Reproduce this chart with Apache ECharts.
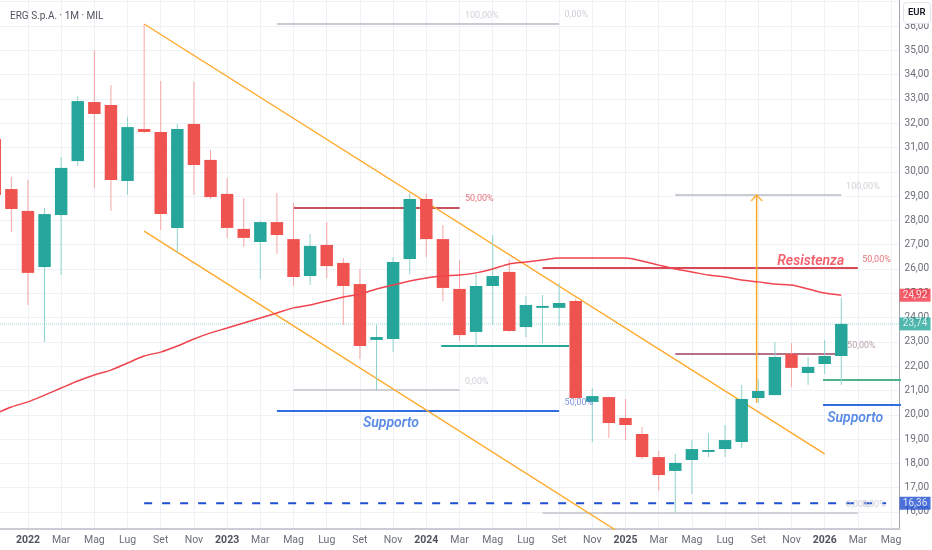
<!DOCTYPE html>
<html><head><meta charset="utf-8">
<script src="https://cdn.jsdelivr.net/npm/echarts@6/dist/echarts.min.js"></script>
<style>html,body{margin:0;padding:0;background:#fff}#c{width:932px;height:550px}</style>
</head><body><div id="c"></div>
<script>
// ---- axis data ----
const monthNames = ['Gen','Feb','Mar','Apr','Mag','Giu','Lug','Ago','Set','Ott','Nov','Dic'];
const startYear = 2022;            // month index 0 = Gen 2022
const xMin = -1.684, xMax = 52.511; // visible month range
const yMin = 15.30, yMax = 37.07;   // visible price range
const xTicks = [0,2,4,6,8,10,12,14,16,18,20,22,24,26,28,30,32,34,36,38,40,42,44,46,48,50,52];
const yGridTicks = [16,17,18,19,20,21,22,23,24,25,26,27,28,29,30,31,32,33,34,35,36,37];
const yLabelTicks = [16,17,18,19,20,21,22,23,24,25,26,27,28,29,30,31,32,33,34,35,36];

// ---- monthly candles: [monthIndex, open, close, low, high] ----
const candles = [
  [-2,31.35,29.05,28.90,31.70],
  [-1,29.29,28.47,27.52,29.79],
  [0,28.39,25.84,24.52,29.66],
  [1,26.08,28.26,23.00,28.51],
  [2,28.22,30.16,25.75,30.61],
  [3,30.44,32.91,30.24,33.12],
  [4,32.87,32.38,29.33,35.01],
  [5,32.75,29.66,28.39,33.57],
  [6,29.62,31.84,29.05,32.26],
  [7,31.76,31.64,31.60,36.08],
  [8,31.64,28.26,27.60,33.74],
  [9,27.69,31.76,26.66,31.97],
  [10,31.97,30.28,29.05,33.70],
  [11,30.49,28.96,28.88,30.90],
  [12,29.09,27.69,27.28,29.74],
  [13,27.65,27.28,26.91,28.92],
  [14,27.11,27.93,25.59,27.98],
  [15,27.93,27.40,26.62,29.13],
  [16,27.23,25.67,25.30,28.72],
  [17,25.71,26.95,25.34,27.44],
  [18,26.99,26.12,25.63,27.93],
  [19,26.25,25.30,23.70,26.45],
  [20,25.38,22.83,22.30,26.00],
  [21,23.08,23.20,21.02,23.70],
  [22,23.12,26.29,22.58,26.49],
  [23,26.41,28.88,25.79,29.13],
  [24,28.88,27.23,26.49,29.09],
  [25,27.23,25.22,24.68,27.81],
  [26,25.18,23.28,23.04,26.37],
  [27,23.41,25.30,22.83,25.79],
  [28,25.30,25.71,23.70,27.40],
  [29,25.88,23.45,23.41,26.37],
  [30,23.61,24.52,23.20,24.89],
  [31,24.40,24.48,22.95,24.93],
  [32,24.40,24.60,23.65,25.42],
  [33,24.68,20.69,20.60,24.77],
  [34,20.53,20.77,18.88,21.10],
  [35,20.73,19.66,19.05,20.75],
  [36,19.87,19.58,18.96,20.65],
  [37,19.21,18.26,18.18,19.50],
  [38,18.26,17.52,16.86,18.51],
  [39,17.69,18.02,15.96,18.39],
  [40,18.14,18.59,16.74,18.96],
  [41,18.47,18.55,18.26,19.25],
  [42,18.59,18.96,18.26,19.58],
  [43,18.88,20.65,18.63,21.23],
  [44,20.69,20.98,20.49,21.47],
  [45,20.81,22.38,20.81,23.00],
  [46,22.50,21.93,21.14,22.95],
  [47,21.72,21.97,21.23,22.38],
  [48,22.09,22.42,21.68,23.08],
  [49,22.42,23.74,21.23,24.81]
];

// ---- moving average (starts at month index -2) ----
const maStart = -2;
const maValues = [20.03,20.32,20.53,20.81,21.10,21.39,21.64,21.84,22.13,22.42,22.58,22.83,23.12,23.37,23.57,23.78,
  23.98,24.19,24.40,24.52,24.68,24.85,24.97,25.18,25.34,25.51,25.63,25.71,25.75,25.84,26.00,26.21,26.29,26.37,
  26.45,26.45,26.45,26.45,26.45,26.33,26.16,26.00,25.88,25.75,25.67,25.55,25.47,25.38,25.34,25.18,25.01,24.92];

// ---- drawings: [[monthIndex, price], [monthIndex, price]] ----
const channelUpper = [[7,36.08],[48,18.39]];
const channelLower = [[7,27.56],[38,14.13]];
const fibTopGrey   = [[15,36.08],[32,36.08]];
const fibMidRed    = [[16,28.51],[26,28.51]];
const fibZeroGrey  = [[16,21.02],[26,21.02]];
const supportLeft  = [[15,20.16],[32,20.16]];
const tealLevel    = [[24.9,22.83],[32.6,22.83]];
const dashedLevel  = [[7,16.36],[51.7,16.36]];
const fibBottomGrey= [[31,15.96],[50,15.96]];
const fibTopRight  = [[39,29.05],[49,29.05]];
const resistance   = [[31,26.04],[50,26.04]];
const mauveLevel   = [[39,22.50],[49,22.50]];
const greenLevel   = [[47.9,21.43],[53,21.43]];
const supportRight = [[47.9,20.40],[53,20.40]];
const targetArrow  = [[43.9,20.5],[43.9,29.05]];
const lastPrice = 23.74, maLast = 24.92, dashedPrice = 16.36;

// ---- text annotations: [monthIndex, price, text] ----
const greyPctLabels  = [[26.3,36.41,'100,00%'],[32.3,36.45,'0,00%'],[26.3,21.35,'0,00%'],[49.26,29.37,'100,00%'],[49.26,16.29,'0,00%'],[50.23,16.29,'0,00%']];
const redPctLabels   = [[26.3,28.88,'50,00%'],[50.23,26.37,'50,00%']];
const bluePctLabels  = [[32.3,20.49,'50,00%']];
const mauvePctLabels = [[49.32,22.83,'50,00%']];
const supportLabels  = [[20.15,19.66,'Supporto'],[48.12,19.83,'Supporto']];
const resistLabels   = [[45.11,26.29,'Resistenza']];

const FONT = 'Roboto, "Noto Sans", sans-serif';
const fmt = v => v.toFixed(2).replace('.', ',');

function seg(data, color, width, type, z) {
  return {type:'line', data:data, symbol:'none', clip:true, silent:true, z:z||3,
    lineStyle:{color:color, width:width, type:type||'solid'}};
}
function texts(arr, style) {
  return {type:'scatter', clip:false, silent:true, z:8, symbolSize:1,
    itemStyle:{color:'rgba(0,0,0,0)'},
    data: arr.map(d => ({name:d[2], value:[d[0], d[1]]})),
    label:Object.assign({show:true, position:'right', distance:0, formatter:'{b}', fontFamily:FONT}, style)};
}

const chart = echarts.init(document.getElementById('c'), null, {renderer:'canvas'});
chart.setOption({
  animation:false,
  backgroundColor:'#ffffff',
  textStyle:{fontFamily:FONT},
  title:{text:'ERG S.p.A. · 1M · MIL', left:5, top:6,
    textStyle:{fontSize:10, fontWeight:'normal', color:'#50535e', fontFamily:FONT}},
  grid:{left:0, right:31, top:0, bottom:21, containLabel:false},
  xAxis:{type:'value', min:xMin, max:xMax, position:'bottom',
    axisLine:{show:true, onZero:false, lineStyle:{color:'#c9ccd3', width:2}},
    axisTick:{show:false, customValues:xTicks},
    axisLabel:{customValues:xTicks, margin:6, fontSize:10.5, color:'#6a6d78',
      formatter: v => { const m = Math.round(v); const mi = ((m % 12) + 12) % 12;
        return mi === 0 ? '{y|' + (startYear + Math.floor(m/12)) + '}' : monthNames[mi]; },
      rich:{y:{fontWeight:'bold', color:'#50535e', fontSize:10.5, fontFamily:FONT}}},
    splitLine:{show:true, lineStyle:{color:'#eef1f6', width:1}}},
  yAxis:{type:'value', min:yMin, max:yMax, position:'right',
    axisLine:{show:true, onZero:false, lineStyle:{color:'#a3a6af', width:1}},
    axisTick:{show:false, customValues:yGridTicks},
    axisLabel:{customValues:yLabelTicks, formatter:fmt, color:'#6a6d78', fontSize:10, margin:5},
    splitLine:{show:true, lineStyle:{color:'#eef1f6', width:1}}},
  graphic:[
    {type:'rect', left:903, top:2, shape:{width:27, height:21, r:3}, z:100,
      style:{fill:'#ffffff', stroke:'#e0e3eb', lineWidth:1}},
    {type:'text', left:908, top:8, z:101,
      style:{text:'EUR', fill:'#131722', fontSize:9.5, fontWeight:600, fontFamily:FONT}}
  ],
  series:[
    seg([[xMin,lastPrice],[xMax,lastPrice]], '#9fd8d2', 1, 'dotted', 1),
    seg(fibTopGrey, '#c8cbd2', 2),
    seg(fibZeroGrey, '#cfd1d6', 2),
    seg(fibBottomGrey, '#cfd1d6', 2),
    seg(fibTopRight, '#c8cbd2', 2),
    seg(fibMidRed, '#c9505c', 2),
    seg(resistance, '#d94a56', 2),
    seg(mauveLevel, '#b5708a', 2),
    seg(tealLevel, '#26a69a', 2),
    seg(greenLevel, '#4db38a', 2),
    seg(supportLeft, '#2f6ee0', 2),
    seg(supportRight, '#2f6ee0', 2),
    seg(dashedLevel, '#1f4fd1', 2, [8,10]),
    seg(channelUpper, '#ffa726', 1.3),
    seg(channelLower, '#ffa726', 1.3),
    seg(targetArrow, '#ffa726', 1.5),
    {type:'scatter', silent:true, clip:false, z:4, data:[targetArrow[1]],
      symbol:'path://M0,10L10,0L20,10', symbolSize:[11,6], symbolOffset:[0,3],
      itemStyle:{color:'rgba(0,0,0,0)', borderColor:'#ffa726', borderWidth:1.5}},
    {type:'custom', z:5, clip:true, silent:true, data:candles,
      encode:{x:0, y:[1,2,3,4]},
      renderItem:function(params, api){
        const m = api.value(0), o = api.value(1), c = api.value(2), l = api.value(3), h = api.value(4);
        const up = c >= o;
        const pO = api.coord([m,o]), pC = api.coord([m,c]), pL = api.coord([m,l]), pH = api.coord([m,h]);
        const bw = api.size([1,0])[0] * 0.75;
        const top = Math.min(pO[1], pC[1]);
        const bh = Math.max(Math.abs(pO[1]-pC[1]), 1.5);
        return {type:'group', children:[
          {type:'line', shape:{x1:pO[0], y1:pH[1], x2:pO[0], y2:pL[1]},
            style:{stroke: up ? '#8fd3cb' : '#f5a5a3', lineWidth:1}},
          {type:'rect', shape:{x:pO[0]-bw/2, y:top, width:bw, height:bh},
            style:{fill: up ? '#26a69a' : '#ef5350'}}
        ]};
      }},
    {type:'line', z:6, symbol:'none', clip:true, silent:true, smooth:0.3,
      data: maValues.map((v,i) => [maStart + i, v]),
      lineStyle:{color:'#f0444f', width:1.5}},
    texts(greyPctLabels, {color:'#c3c6cd', fontSize:9}),
    texts(redPctLabels, {color:'#e0525d', fontSize:9}),
    texts(bluePctLabels, {color:'#5b78d0', fontSize:9}),
    texts(mauvePctLabels, {color:'#a88a98', fontSize:9}),
    texts(supportLabels, {color:'#2f6ee0', fontSize:14, fontStyle:'italic', fontWeight:600}),
    texts(resistLabels, {color:'#f23645', fontSize:14, fontStyle:'italic', fontWeight:600}),
    {type:'scatter', clip:false, silent:true, z:20, symbol:'rect', symbolSize:[31,13], symbolOffset:[15.5,0],
      data:[
        {name:fmt(maLast), value:[xMax, maLast], itemStyle:{color:'#f23645'}},
        {name:fmt(lastPrice), value:[xMax, lastPrice], itemStyle:{color:'#26a69a'}},
        {name:fmt(dashedPrice), value:[xMax, dashedPrice], itemStyle:{color:'#1f4fd1'}}
      ],
      label:{show:true, position:'inside', formatter:'{b}', color:'#ffffff', fontSize:10, fontFamily:FONT}}
  ]
});
</script></body></html>
